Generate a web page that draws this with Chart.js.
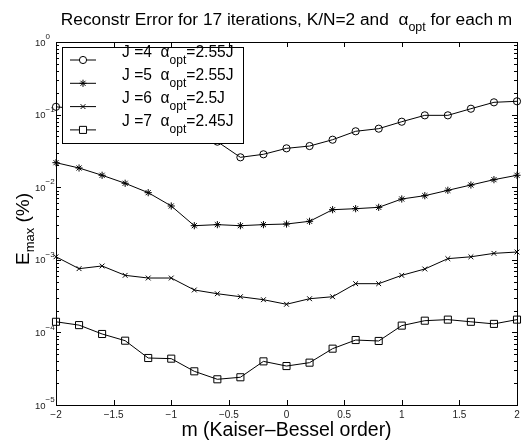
<!DOCTYPE html>
<html><head><meta charset="utf-8">
<script src="https://cdn.jsdelivr.net/npm/chart.js@4"></script>
<style>html,body{margin:0;padding:0;background:#fff;} #wrap{width:523px;height:440px;}</style>
</head><body><div id="wrap"><canvas id="c" width="523" height="440"></canvas></div>
<script>
const mValues = [-2,-1.8,-1.6,-1.4,-1.2,-1,-0.8,-0.6,-0.4,-0.2,0,0.2,0.4,0.6,0.8,1,1.2,1.4,1.6,1.8,2];
const errJ4 = [0.128,0.12,0.11,0.098,0.085,0.07,0.056,0.0424,0.0258,0.0284,0.0343,0.0369,0.0451,0.0589,0.064,0.0798,0.0977,0.0977,0.1205,0.1476,0.1525];
const errJ5 = [0.02176,0.01838,0.01459,0.01132,0.00841,0.00551,0.00295,0.00305,0.00295,0.00305,0.00311,0.00339,0.0049,0.00506,0.00528,0.00688,0.00764,0.00906,0.01072,0.0127,0.0146];
const errJ6 = [0.0011,0.000755,0.000822,0.000611,0.000561,0.000561,0.000384,0.000341,0.00031,0.000282,0.000244,0.000291,0.00031,0.000469,0.000469,0.000611,0.000747,0.001037,0.0011,0.001227,0.00128];
const errJ7 = [0.00014,0.000126,0.0000951,0.0000769,0.0000444,0.0000435,0.0000291,0.0000226,0.0000241,0.0000399,0.0000344,0.0000383,0.0000597,0.0000785,0.0000762,0.000124,0.000145,0.00015,0.00014,0.000131,0.00015];
const seriesJ = ['J =4','J =5','J =6','J =7'];
const seriesAlpha = ['=2.55J','=2.55J','=2.5J','=2.45J'];
const xTickValues = [-2,-1.5,-1,-0.5,0,0.5,1,1.5,2];
const xTickLabels = ['\u22122','\u22121.5','\u22121','\u22120.5','0','0.5','1','1.5','2'];
const yDecades = [-5,-4,-3,-2,-1,0];
const yExpLabels = ['\u22125','\u22124','\u22123','\u22122','\u22121','0'];
const titleMain = 'Reconstr Error for 17 iterations, K/N=2 and  ';
const titleEnd = ' for each m';
const xAxisTitle = 'm (Kaiser\u2013Bessel order)';

const FONT = '"Liberation Sans", Arial, Helvetica, sans-serif';
const styles = [
  {pointStyle:'circle', pointRadius:3.6},
  {pointStyle:'star', pointRadius:3.6},
  {pointStyle:'crossRot', pointRadius:3.4},
  {pointStyle:'rect', pointRadius:5}
];
const allSeries = [errJ4, errJ5, errJ6, errJ7];

function rich(ctx, parts, x, y, align){
  let w = 0;
  parts.forEach(p=>{ctx.font = p.s+'px '+FONT; p.w = ctx.measureText(p.t).width; w += p.w;});
  let cx = align==='center' ? x - w/2 : x;
  ctx.textAlign='left'; ctx.textBaseline='alphabetic';
  parts.forEach(p=>{ctx.font = p.s+'px '+FONT; ctx.fillText(p.t, cx, y + (p.dy||0)); cx += p.w;});
}

function marker(ctx, st, r, x, y){
  if (Chart.helpers && Chart.helpers.drawPoint){
    Chart.helpers.drawPoint(ctx, {pointStyle:st, rotation:0, radius:r, borderWidth:1}, x, y);
  }
}

const deco = {
  id:'deco',
  afterDraw(chart){
    const ctx = chart.ctx, a = chart.chartArea, xs = chart.scales.x, ys = chart.scales.y;
    ctx.save();
    ctx.strokeStyle='#000'; ctx.lineWidth=1; ctx.fillStyle='#000';
    ctx.strokeRect(Math.round(a.left)+0.5, Math.round(a.top)+0.5, Math.round(a.right-a.left), Math.round(a.bottom-a.top));
    ctx.beginPath();
    xTickValues.forEach(v=>{
      const px = Math.round(xs.getPixelForValue(v))+0.5;
      ctx.moveTo(px, a.bottom); ctx.lineTo(px, a.bottom-5);
      ctx.moveTo(px, a.top); ctx.lineTo(px, a.top+5);
    });
    yDecades.forEach(d=>{
      const py = Math.round(ys.getPixelForValue(Math.pow(10,d)))+0.5;
      ctx.moveTo(a.left, py); ctx.lineTo(a.left+5, py);
      ctx.moveTo(a.right, py); ctx.lineTo(a.right-5, py);
      if (d<0){
        for(let k=2;k<=9;k++){
          const q = Math.round(ys.getPixelForValue(k*Math.pow(10,d)))+0.5;
          ctx.moveTo(a.left, q); ctx.lineTo(a.left+3, q);
          ctx.moveTo(a.right, q); ctx.lineTo(a.right-3, q);
        }
      }
    });
    ctx.stroke();
    ctx.fillStyle='#222';
    ctx.font='10px '+FONT; ctx.textAlign='center'; ctx.textBaseline='middle';
    xTickValues.forEach((v,i)=>{ ctx.fillText(xTickLabels[i], xs.getPixelForValue(v), a.bottom+10); });
    yDecades.forEach((d,i)=>{
      const py = ys.getPixelForValue(Math.pow(10,d));
      ctx.textAlign='left'; ctx.textBaseline='middle';
      ctx.font='9.5px '+FONT; ctx.fillText('10', 35, py+1);
      const w = ctx.measureText('10').width;
      ctx.font='8px '+FONT; ctx.fillText(yExpLabels[i], 35+w, py-5);
    });
    ctx.fillStyle='#000';
    rich(ctx, [{t:titleMain,s:17.3},{t:'\u03b1',s:17.3},{t:'opt',s:12.5,dy:6},{t:titleEnd,s:17.3}], (a.left+a.right)/2, 25, 'center');
    rich(ctx, [{t:xAxisTitle,s:19.5}], (a.left+a.right)/2, 436, 'center');
    ctx.save();
    ctx.translate(28.5, 265); ctx.rotate(-Math.PI/2);
    rich(ctx, [{t:'E',s:19},{t:'max',s:13,dy:5},{t:' (%)',s:19}], 0, 0, 'left');
    ctx.restore();
    const L = {x:62, y:47, w:181, h:96};
    ctx.fillStyle='#fff'; ctx.fillRect(L.x, L.y, L.w, L.h);
    ctx.strokeStyle='#000'; ctx.strokeRect(L.x+0.5, L.y+0.5, L.w, L.h);
    seriesJ.forEach((lab,i)=>{
      const ly = 60 + i*23.3;
      ctx.strokeStyle='#000'; ctx.lineWidth=1;
      ctx.beginPath(); ctx.moveTo(70, ly); ctx.lineTo(96, ly); ctx.stroke();
      ctx.fillStyle='#fff';
      marker(ctx, styles[i].pointStyle, styles[i].pointRadius, 83, ly);
      ctx.fillStyle='#000';
      rich(ctx, [{t:lab+'  ',s:15.6},{t:'\u03b1',s:15.6},{t:'opt',s:12,dy:7},{t:seriesAlpha[i],s:15.6}], 122, ly-3.5, 'left');
    });
    ctx.restore();
  }
};

const datasets = allSeries.map((arr,i)=>({
  label: seriesJ[i],
  data: mValues.map((m,j)=>({x:m, y:arr[j]})),
  borderColor:'#000', borderWidth:1,
  pointStyle: styles[i].pointStyle, pointRadius: styles[i].pointRadius,
  pointBorderColor:'#000', pointBackgroundColor:'rgba(0,0,0,0)', pointBorderWidth:1,
  tension:0, clip:false, fill:false
}));

new Chart(document.getElementById('c'), {
  type:'line',
  data:{datasets},
  options:{
    responsive:false, animation:false, devicePixelRatio:1,
    layout:{padding:{top:42, right:5, left:0, bottom:0}},
    plugins:{legend:{display:false}, title:{display:false}, tooltip:{enabled:false}},
    scales:{
      x:{type:'linear', min:-2, max:2, grid:{display:false}, border:{display:false}, ticks:{display:false},
         afterFit(s){ s.height = 35; }},
      y:{type:'logarithmic', min:1e-5, max:1, grid:{display:false}, border:{display:false}, ticks:{display:false},
         afterFit(s){ s.width = 56; }}
    }
  },
  plugins:[deco]
});
</script>
</body></html>
